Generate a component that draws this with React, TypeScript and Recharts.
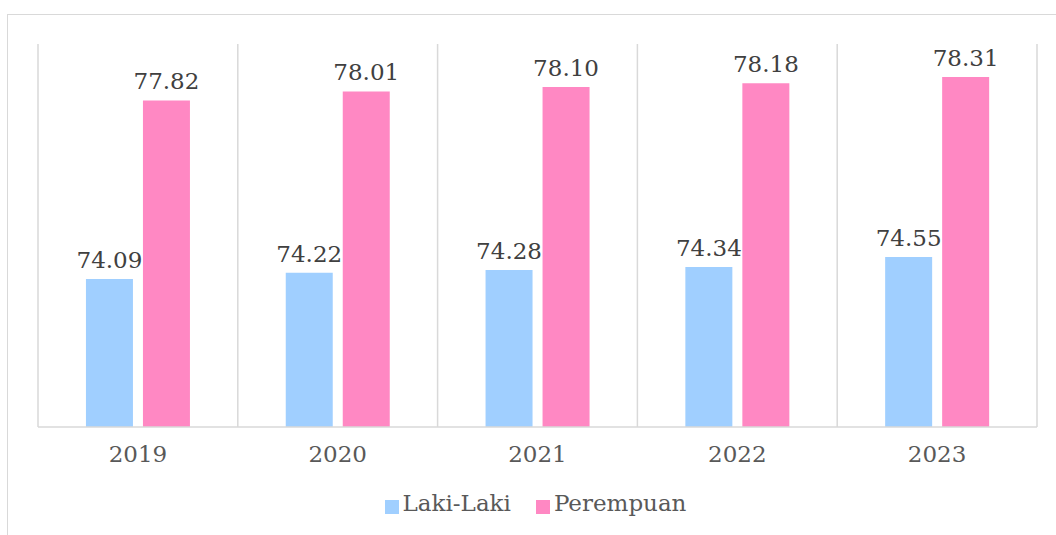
import { BarChart, Bar, XAxis, YAxis, CartesianGrid, Legend, LabelList } from "recharts";

const years = ["2019", "2020", "2021", "2022", "2023"];
const lakiLaki = [74.09, 74.22, 74.28, 74.34, 74.55];
const perempuan = [77.82, 78.01, 78.1, 78.18, 78.31];

const data = years.map((y, i) => ({
  year: y,
  laki: lakiLaki[i],
  perempuan: perempuan[i],
}));

const FONT = "'DejaVu Serif', 'Liberation Serif', serif";

export default function App() {
  return (
    <div
      style={{
        position: "fixed",
        top: 0,
        left: 0,
        width: 1056,
        height: 535,
        background: "#fff",
        overflow: "hidden",
        fontFamily: FONT,
      }}
    >
      {/* chart frame, only top + left edge visible */}
      <div
        style={{
          position: "absolute",
          left: 7,
          top: 14,
          width: 1200,
          height: 700,
          borderTop: "1.5px solid #d9d9d9",
          borderLeft: "1.5px solid #d9d9d9",
        }}
      />
      <div style={{ position: "absolute", left: 0, top: 0 }}>
        <BarChart
          width={1056}
          height={535}
          data={data}
          margin={{ top: 44, right: 19, left: 38, bottom: 19 }}
          barCategoryGap="24%"
          barGap={10}
        >
          <CartesianGrid
            horizontal={false}
            stroke="#d9d9d9"
            strokeWidth={1.5}
            verticalCoordinatesGenerator={({ offset }: any) =>
              years.map((_, i) => offset.left + (i * offset.width) / years.length).concat(offset.left + offset.width)
            }
          />
          <XAxis
            dataKey="year"
            axisLine={{ stroke: "#d9d9d9", strokeWidth: 1.5 }}
            tickLine={false}
            tickMargin={13}
            height={63}
            tick={{ fill: "#595959", fontSize: 23, fontFamily: FONT }}
          />
          <YAxis hide domain={[71, 79]} allowDataOverflow />
          <Legend
            iconType="square"
            iconSize={14}
            wrapperStyle={{ paddingLeft: 3 }}
            formatter={(v) => (
              <span
                style={{
                  color: "#595959",
                  fontSize: 23,
                  fontFamily: FONT,
                  marginRight: v === "Laki-Laki" ? 15 : 0,
                }}
              >
                {v}
              </span>
            )}
          />
          <Bar dataKey="laki" name="Laki-Laki" fill="#A0CFFF" isAnimationActive={false}>
            <LabelList dataKey="laki" position="top" offset={11} fill="#404040" fontSize={23} fontFamily={FONT} formatter={(v: any) => Number(v).toFixed(2)} />
          </Bar>
          <Bar dataKey="perempuan" name="Perempuan" fill="#FF88C3" isAnimationActive={false}>
            <LabelList dataKey="perempuan" position="top" offset={11} fill="#404040" fontSize={23} fontFamily={FONT} formatter={(v: any) => Number(v).toFixed(2)} />
          </Bar>
        </BarChart>
      </div>
    </div>
  );
}
